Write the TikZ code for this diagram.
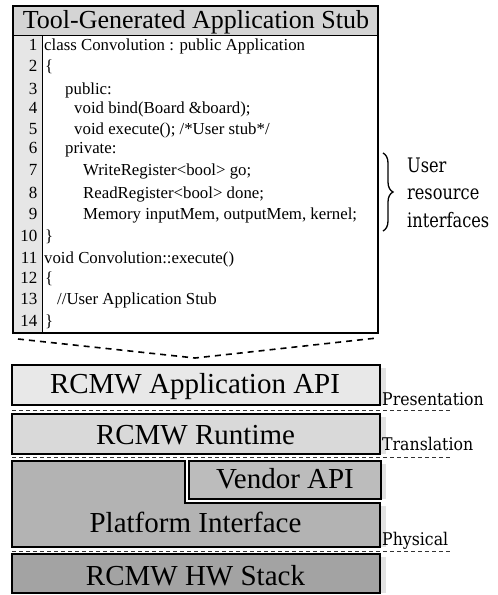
\documentclass[tikz,border=0pt]{standalone}
\usepackage{fontspec}
\setmainfont{Liberation Serif}
\newfontfamily\labelfont{DejaVu Serif Condensed}
\usetikzlibrary{decorations.pathreplacing}

\definecolor{titlegray}{HTML}{D4D4D4}
\definecolor{numgray}{HTML}{E6E6E6}
\definecolor{apigray}{HTML}{E8E8E8}
\definecolor{rtgray}{HTML}{D9D9D9}
\definecolor{pfgray}{HTML}{B3B3B3}
\definecolor{vdgray}{HTML}{BCBCBC}
\definecolor{hwgray}{HTML}{A3A3A3}
\definecolor{shadowgray}{HTML}{E2E2E2}

\tikzset{
  codetext/.style={anchor=base west, inner sep=0pt, font=\fontsize{16.8}{20}\selectfont},
  linenum/.style={anchor=base east, inner sep=0pt, font=\fontsize{17}{20}\selectfont},
  layerbox/.style={draw=black, line width=1.6pt},
  layertext/.style={anchor=base, inner sep=0pt, font=\fontsize{29}{32}\selectfont},
  layerlabel/.style={anchor=base west, inner sep=0pt, font=\labelfont\fontsize{17.5}{20}\selectfont},
  bracetext/.style={anchor=base west, inner sep=0pt, xscale=0.9, font=\labelfont\fontsize{20}{22}\selectfont},
  layersep/.style={draw=black!80, line width=0.8pt, dash pattern=on 4pt off 3pt},
  funnel/.style={draw=black, line width=1.6pt, dash pattern=on 6pt off 5pt},
}

\begin{document}
\begin{tikzpicture}[x=1pt, y=-1pt]
\useasboundingbox (0,0) rectangle (498,595);

% --- generated code listing ---
\fill[numgray] (13,35) rectangle (42,333);
\draw[line width=1pt] (42,35) -- (42,333);
\draw[fill=titlegray, line width=1pt] (13,6) rectangle (378,35);
\draw[line width=1.2pt] (13,6) rectangle (378,333);
\node[anchor=base, inner sep=0pt, font=\fontsize{26}{28}\selectfont] (title) at (196,28) {Tool-Generated Application Stub};

\foreach \n/\yb in {1/50,2/71,3/94,4/113,5/134,6/153,7/175,8/198,9/219,10/241,11/263,12/283,13/304,14/326}
  \node[linenum] (num\n) at (37.5,\yb) {\n};

\node[codetext] (c1) at (44,50) {class Convolution : public Application};
\node[codetext] (c2) at (45,71) {\{};
\node[codetext] (c3) at (65,94) {public:};
\node[codetext] (c4) at (74,113) {void bind(Board \&board);};
\node[codetext] (c5) at (74,134) {void execute(); /*User stub*/};
\node[codetext] (c6) at (65,153) {private:};
\node[codetext] (c7) at (83,175) {WriteRegister<bool> go;};
\node[codetext] (c8) at (83,198) {ReadRegister<bool> done;};
\node[codetext] (c9) at (83,219) {Memory inputMem, outputMem, kernel;};
\node[codetext] (c10) at (45,241) {\}};
\node[codetext] (c11) at (44,263) {void Convolution::execute()};
\node[codetext] (c12) at (45,283) {\{};
\node[codetext] (c13) at (57,304) {//User Application Stub};
\node[codetext] (c14) at (45,326) {\}};

% --- brace marking the resource interfaces ---
\coordinate (braceTop) at (383,153);
\coordinate (braceBot) at (383,231);
\draw[line width=1.3pt, decorate, decoration={brace, amplitude=10pt}] (braceTop) -- (braceBot);
\node[bracetext] (bUser) at (407,172) {User};
\node[bracetext] (bRes) at (407,199) {resource};
\node[bracetext] (bInt) at (407,227) {interfaces};

% --- funnel from the listing down to the API layer ---
\coordinate (fL) at (18,339);
\coordinate (fM) at (195,358);
\coordinate (fR) at (377,338);
\draw[funnel] (fL) -- (fM) -- (fR);

% --- layer stack (light strips on the right act as shadows) ---
\fill[shadowgray] (380,368) rectangle (386,405);
\fill[shadowgray] (380,417) rectangle (386,454);
\fill[shadowgray] (381,464) rectangle (386,499);
\fill[shadowgray] (380,506) rectangle (386,547);
\fill[shadowgray] (380,557) rectangle (386,593);

\draw[layerbox, fill=apigray] (12,365) rectangle (380,405);
\node[layertext] (api) at (195,393) {RCMW Application API};
\draw[layersep] (12,410) -- (452,410);
\node[layerlabel] (lPres) at (382,405) {Presentation};

\draw[layerbox, fill=rtgray] (12,414) rectangle (380,454);
\node[layertext] (rt) at (195.5,444) {RCMW Runtime};
\draw[layersep] (12,457) -- (452,457);
\node[layerlabel] (lTrans) at (382,450) {Translation};

\draw[layerbox, fill=pfgray] (12,461) -- (185,461) -- (185,503) -- (380,503) -- (380,547) -- (12,547) -- cycle;
\draw[layerbox, fill=vdgray] (189,461) rectangle (381,499);
\node[layertext] (vendor) at (285,488) {Vendor API};
\node[layertext] (pf) at (195.5,532) {Platform Interface};
\draw[layersep] (12,551) -- (452,551);
\node[layerlabel] (lPhys) at (382,545) {Physical};

\draw[layerbox, fill=hwgray] (12,554) rectangle (380,593);
\node[layertext] (hw) at (195.5,585) {RCMW HW Stack};
\end{tikzpicture}
\end{document}
